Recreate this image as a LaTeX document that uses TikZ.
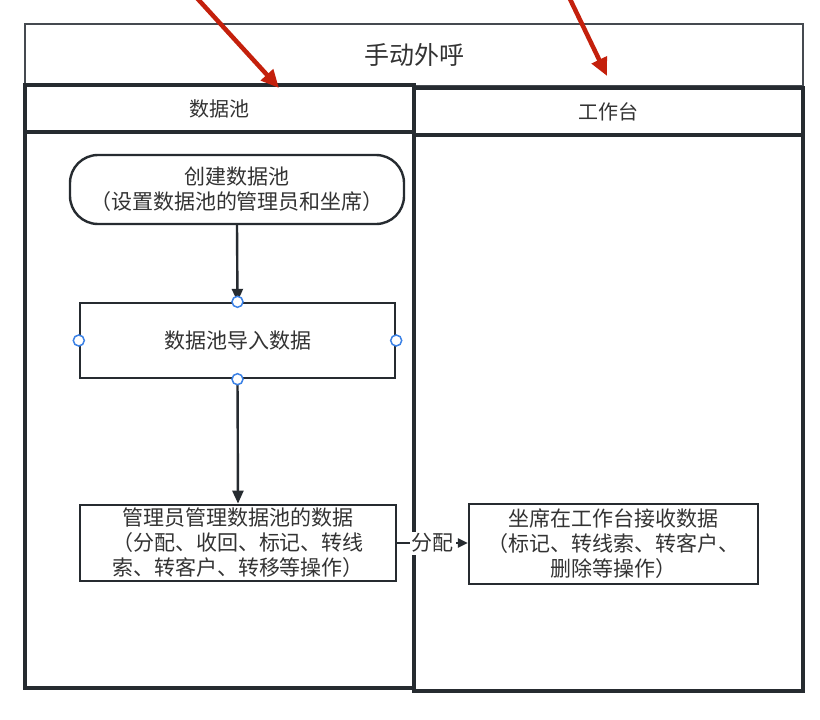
\documentclass[tikz,border=0pt]{standalone}
\usepackage{fontspec}
\setmainfont{Noto Sans CJK SC}
\usetikzlibrary{arrows.meta}
\definecolor{lane}{HTML}{262B30}
\definecolor{frame}{HTML}{454A50}
\definecolor{txt}{HTML}{333333}
\definecolor{pin}{HTML}{3C82E6}
\definecolor{hint}{HTML}{C4200C}
\begin{document}
\begin{tikzpicture}[x=1pt,y=-1pt,
    title/.style={draw=frame,line width=2pt,fill=white,text=txt,font=\fontsize{25}{29}\selectfont},
    lanehead/.style={draw=lane,line width=3.2pt,fill=white,text=txt,minimum width=389,minimum height=47,font=\fontsize{20}{24}\selectfont},
    lanebody/.style={draw=lane,line width=3.2pt,minimum width=389,minimum height=556},
    startbox/.style={draw=lane,line width=2.4pt,rounded corners=28pt,text=txt,align=center,font=\fontsize{21}{25}\selectfont},
    stepbox/.style={draw=lane,line width=2.4pt,text=txt,align=center,font=\fontsize{21}{25}\selectfont},
    flow/.style={draw=lane,line width=2.4pt,-{Triangle[length=13pt,width=11pt]}},
    pinpt/.style={draw=pin,line width=1.5pt,fill=white},
    hint/.style={draw=hint,line width=4.5pt,-{Triangle[length=18pt,width=16pt]}}]
    \useasboundingbox[fill=white] (0,0) rectangle (820,720);
    \node[title,minimum width=778,minimum height=62] (call) at (414,55) {手动外呼};
    \node[lanebody] (poolbody) at (219.5,410) {};
    \node[lanebody] (deskbody) at (608.5,413) {};
    \node[lanehead] (poolhead) at (219.5,108.5) {数据池};
    \node[lanehead] (deskhead) at (608.5,111.5) {工作台};
    \node[startbox,minimum width=334,minimum height=69] (create) at (237,189.5) {创建数据池\\（设置数据池的管理员和坐席）};
    \node[stepbox,minimum width=315,minimum height=75] (import) at (237.5,340.5) {数据池导入数据};
    \node[stepbox,minimum width=316,minimum height=75] (manage) at (238,543) {管理员管理数据池的数据\\（分配、收回、标记、转线\\索、转客户、转移等操作）};
    \node[stepbox,minimum width=289,minimum height=80] (receive) at (613.5,544) {坐席在工作台接收数据\\（标记、转线索、转客户、\\删除等操作）};
    \draw[flow] (create.south) -- (import.north);
    \draw[flow] (import.south) -- (manage.north);
    \draw[flow,-{Triangle[length=10pt,width=9pt]}] (manage.east) -- (manage.east -| receive.west)
        node[midway,fill=white,inner sep=2pt,text=txt,font=\fontsize{21}{24}\selectfont] (assign) {分配};
    \foreach \a in {north,south,west,east}
        \draw[pinpt] (import.\a) circle (5.5);
    \coordinate (hintA) at (196,-3);
    \coordinate (hintAend) at (279,88);
    \coordinate (hintB) at (569,-3);
    \coordinate (hintBend) at (607,76);
    \draw[hint] (hintA) -- (hintAend);
    \draw[hint] (hintB) -- (hintBend);
\end{tikzpicture}
\end{document}
